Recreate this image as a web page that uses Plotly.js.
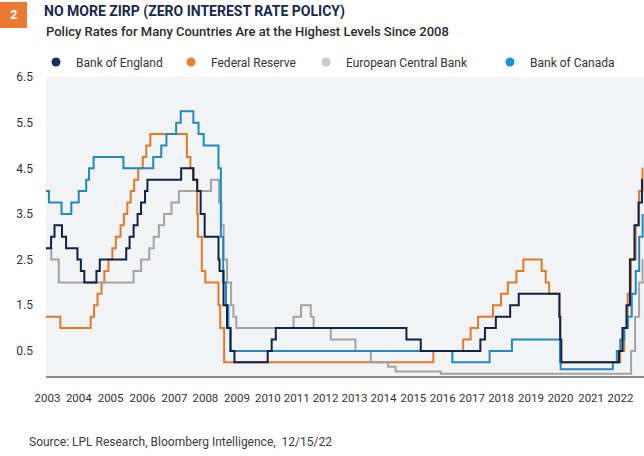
<!DOCTYPE html>
<html>
<head>
<meta charset="utf-8">
<script src="https://cdn.plot.ly/plotly-3.0.1.min.js"></script>
<style>
  html, body { margin: 0; padding: 0; background: #ffffff; }
  #chart { width: 644px; height: 456px; }
</style>
</head>
<body>
<div id="chart"></div>
<script>
// ---------- DATA ----------
// Navy line (legend: Bank of England)
const englandDates = ['2003-01-01','2003-03-04','2003-04-15','2003-07-15','2003-09-03','2004-01-20','2004-03-02','2004-04-13','2004-09-08','2004-10-19','2005-09-07','2005-10-18','2005-12-06','2006-01-24','2006-03-07','2006-04-25','2006-05-24','2007-07-10','2007-12-04','2008-01-22','2008-03-04','2008-04-22','2008-10-08','2008-10-21','2008-12-09','2009-01-20','2009-03-03','2009-04-21','2010-06-01','2010-07-20','2010-09-08','2015-01-21','2015-07-15','2017-07-12','2017-09-06','2018-01-17','2018-07-11','2018-10-24','2020-03-04','2020-03-13','2020-03-27','2022-03-02','2022-04-13','2022-06-01','2022-07-13','2022-09-07','2022-10-26','2022-12-07','2022-12-15'];
const englandRates = [2.75,3.0,3.25,3.0,2.75,2.5,2.25,2.0,2.25,2.5,2.75,3.0,3.25,3.5,3.75,4.0,4.25,4.5,4.25,4.0,3.5,3.0,2.5,2.25,1.5,1.0,0.5,0.25,0.5,0.75,1.0,0.75,0.5,0.75,1.0,1.25,1.5,1.75,1.25,0.75,0.25,0.5,1.0,1.5,2.5,3.25,3.75,4.25,4.25];

// Orange line (legend: Federal Reserve)
const fedDates = ['2003-01-01','2003-06-25','2004-06-30','2004-08-10','2004-09-21','2004-11-10','2004-12-14','2005-02-02','2005-03-22','2005-05-03','2005-06-30','2005-08-09','2005-09-20','2005-11-01','2005-12-13','2006-01-31','2006-03-28','2006-05-10','2006-06-29','2007-09-18','2007-10-31','2007-12-11','2008-01-22','2008-01-30','2008-03-18','2008-04-30','2008-10-08','2008-10-29','2008-12-16','2015-12-16','2016-12-14','2017-03-15','2017-06-14','2017-12-13','2018-03-21','2018-06-13','2018-09-26','2018-12-19','2019-07-31','2019-09-18','2019-10-30','2020-03-03','2020-03-15','2022-03-16','2022-05-04','2022-06-15','2022-07-27','2022-09-21','2022-11-02','2022-12-14','2022-12-15'];
const fedRates = [1.25,1.0,1.25,1.5,1.75,2.0,2.25,2.5,2.75,3.0,3.25,3.5,3.75,4.0,4.25,4.5,4.75,5.0,5.25,4.75,4.5,4.25,3.5,3.0,2.25,2.0,1.5,1.0,0.25,0.5,0.75,1.0,1.25,1.5,1.75,2.0,2.25,2.5,2.25,2.0,1.75,1.25,0.25,0.5,1.0,1.75,2.5,3.25,4.0,4.5,4.5];

// Gray line (legend: European Central Bank)
const ecbDates = ['2003-01-01','2003-03-07','2003-06-06','2005-12-06','2006-03-08','2006-06-15','2006-08-09','2006-10-11','2006-12-13','2007-03-14','2007-06-13','2008-07-09','2008-10-15','2008-11-12','2008-12-10','2009-01-21','2009-03-11','2009-04-08','2009-05-13','2011-04-13','2011-07-13','2011-11-09','2011-12-14','2012-07-11','2013-05-08','2013-11-13','2014-06-11','2014-09-10','2016-03-16','2022-07-27','2022-09-14','2022-11-02','2022-12-14','2022-12-15'];
const ecbRates = [2.75,2.5,2.0,2.25,2.5,2.75,3.0,3.25,3.5,3.75,4.0,4.25,3.75,3.25,2.5,2.0,1.5,1.25,1.0,1.25,1.5,1.25,1.0,0.75,0.5,0.25,0.15,0.05,0.0,0.5,1.25,2.0,2.5,2.5];

// Light-blue line (legend: Bank of Canada)
const canadaDates = ['2003-01-01','2003-02-06','2003-07-10','2003-11-06','2004-02-05','2004-05-06','2004-06-10','2004-08-05','2005-08-04','2006-08-03','2006-11-09','2007-01-11','2007-05-10','2007-07-05','2007-12-06','2008-02-07','2008-04-10','2008-10-08','2008-11-06','2008-12-04','2009-01-08','2009-02-05','2009-03-05','2016-08-04','2017-11-02','2018-08-02','2020-03-11','2020-03-19','2021-12-16','2022-02-03','2022-03-17','2022-05-05','2022-06-16','2022-08-04','2022-09-22','2022-11-03','2022-12-15'];
const canadaRates = [4.0,3.75,3.5,3.75,4.0,4.25,4.5,4.75,4.5,4.75,5.0,5.25,5.5,5.75,5.5,5.25,5.0,4.5,3.0,2.0,1.5,1.0,0.5,0.25,0.5,0.75,0.25,0.1,0.25,0.5,0.75,1.0,1.25,1.75,2.25,3.0,3.5];

// Axis tick labels (positions as they sit in the reference)
const tickYears = ['2003','2004','2005','2006','2007','2008','2009','2010','2011','2012','2013','2014','2015','2016','2017','2018','2019','2020','2021','2022'];
const tickDates = ['2003-01-19','2004-02-06','2005-02-28','2006-03-25','2007-04-20','2008-05-01','2009-05-22','2010-06-03','2011-05-22','2012-05-08','2013-04-27','2014-04-16','2015-04-16','2016-04-08','2017-04-01','2018-03-22','2019-03-22','2020-03-18','2021-03-26','2022-03-20'];
const yTicks = [0.5,1.5,2.5,3.5,4.5,5.5,6.5];

const seriesNames = ['Bank of England','Federal Reserve','European Central Bank','Bank of Canada'];

// ---------- STYLE ----------
const FONT = 'Roboto, "Open Sans", sans-serif';
const lineColors = { england: '#0f2347', fed: '#e07a2c', ecb: '#a3a3a3', canada: '#2188c0' };
const keyColors  = { england: '#14325e', fed: '#ee7f2e', ecb: '#c9c9c9', canada: '#1f93d2' };

function line(x, y, color) {
  return { x: x, y: y, type: 'scatter', mode: 'lines', line: { color: color, width: 2, shape: 'hv' },
           showlegend: false, hoverinfo: 'skip' };
}
function key(name, color, legendId) {
  return { x: [null], y: [null], type: 'scatter', mode: 'markers', name: name,
           marker: { color: color, size: 9, symbol: 'circle' }, legend: legendId, hoverinfo: 'skip' };
}

// draw order: orange, gray, light blue, navy on top
const traces = [
  line(fedDates, fedRates, lineColors.fed),
  line(ecbDates, ecbRates, lineColors.ecb),
  line(canadaDates, canadaRates, lineColors.canada),
  line(englandDates, englandRates, lineColors.england),
  key(seriesNames[0], keyColors.england, 'legend'),
  key(seriesNames[1], keyColors.fed, 'legend2'),
  key(seriesNames[2], keyColors.ecb, 'legend3'),
  key(seriesNames[3], keyColors.canada, 'legend4')
];

const L = 46, T = 77, W = 598, H = 299;
const px = v => (v - L) / W;          // page x -> paper x
const py = v => (T + H - v) / H;      // page y -> paper y

function legendAt(xp) {
  return { x: px(xp), xanchor: 'left', y: py(62), yanchor: 'middle', orientation: 'h',
           bgcolor: 'rgba(0,0,0,0)', font: { family: FONT, size: 12, color: '#333333' } };
}

const layout = {
  width: 644, height: 456,
  margin: { l: L, r: 0, t: T, b: 456 - T - H, pad: 0 },
  paper_bgcolor: '#ffffff',
  plot_bgcolor: '#f2f3f5',
  font: { family: FONT, size: 12, color: '#333333' },
  title: {
    text: 'NO MORE ZIRP (ZERO INTEREST RATE POLICY)',
    x: 44 / 644, xanchor: 'left', xref: 'container',
    y: 1 - 11 / 456, yanchor: 'middle', yref: 'container',
    font: { family: FONT, size: 14, weight: 700, color: '#16294c' }
  },
  xaxis: {
    type: 'date', range: ['2003-01-01', '2023-01-01'],
    tickmode: 'array', tickvals: tickDates, ticktext: tickYears,
    tickangle: 0,
    showgrid: false, zeroline: false, ticks: '',
    showline: true, linecolor: '#8c8c8c', linewidth: 1.5,
    ticklabelstandoff: 11,
    tickfont: { family: FONT, size: 11.5, color: '#333333' },
    fixedrange: true
  },
  yaxis: {
    range: [-0.05, 6.5],
    tickmode: 'array', tickvals: yTicks, tickformat: '.1f',
    showgrid: false, zeroline: false, showline: false, ticks: '',
    ticklabelstandoff: 12,
    tickfont: { family: FONT, size: 12, color: '#333333' },
    fixedrange: true
  },
  showlegend: true,
  legend: legendAt(36),
  legend2: legendAt(171),
  legend3: legendAt(306),
  legend4: legendAt(490),
  shapes: [
    { type: 'rect', xref: 'paper', yref: 'paper', x0: px(0), x1: px(27), y0: py(28), y1: py(2),
      fillcolor: '#ea7a32', line: { width: 0 }, layer: 'above' }
  ],
  annotations: [
    { text: '2', xref: 'paper', yref: 'paper', x: px(13.5), y: py(15), xanchor: 'center', yanchor: 'middle',
      showarrow: false, font: { family: FONT, size: 13, weight: 700, color: '#ffffff' } },
    { text: 'Policy Rates for Many Countries Are at the Highest Levels Since 2008',
      xref: 'paper', yref: 'paper', x: px(44), y: py(31), xanchor: 'left', yanchor: 'middle',
      showarrow: false, font: { family: FONT, size: 13, weight: 500, color: '#2b2b2b' } },
    { text: 'Source: LPL Research, Bloomberg Intelligence,\u00a0 12/15/22',
      xref: 'paper', yref: 'paper', x: px(27), y: py(442), xanchor: 'left', yanchor: 'middle',
      showarrow: false, font: { family: FONT, size: 12, color: '#3c3c3c' } }
  ]
};

Plotly.newPlot('chart', traces, layout, { displayModeBar: false, staticPlot: true });
</script>
</body>
</html>
